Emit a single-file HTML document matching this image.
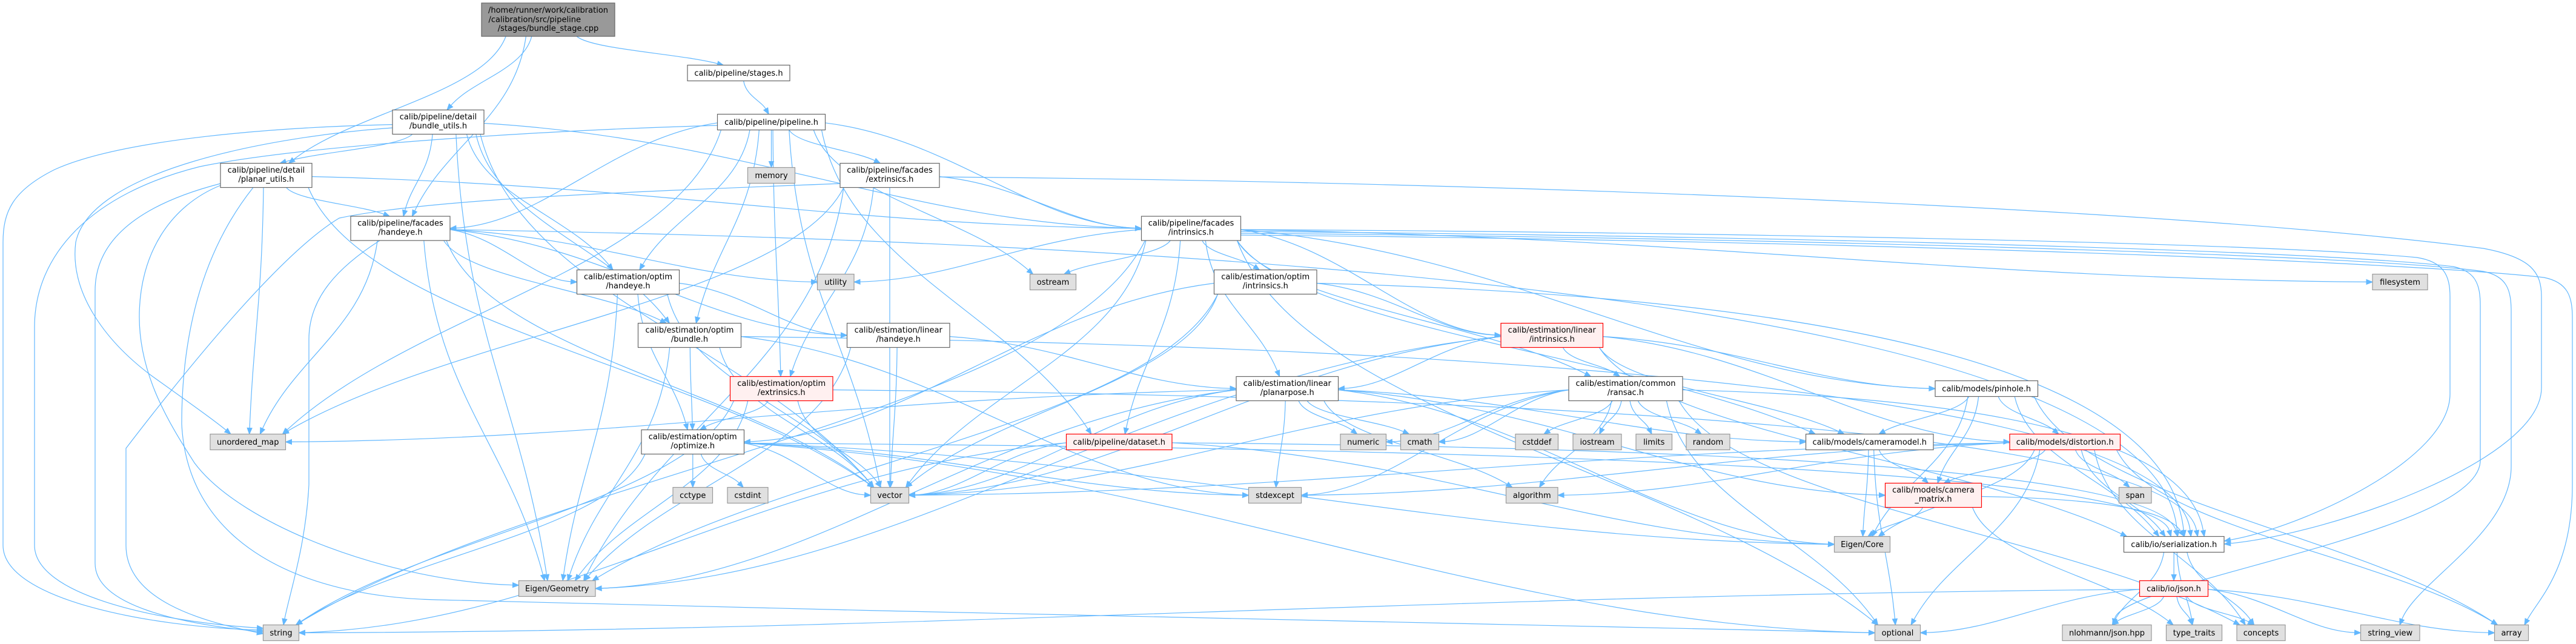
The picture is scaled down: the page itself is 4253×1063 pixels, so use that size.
<!DOCTYPE html>
<html>
<head>
<meta charset="utf-8">
<style>
  html,body{margin:0;padding:0;background:#fff;}
  body{width:4253px;height:1063px;overflow:hidden;}
  svg{display:block;}
  .w{fill:#ffffff;stroke:#666666;stroke-width:1.2;}
  .g{fill:#e0e0e0;stroke:#999999;stroke-width:1.2;}
  .r{fill:#fff0f0;stroke:#ff0000;stroke-width:1.2;}
  .k{fill:#999999;stroke:#666666;stroke-width:1.2;}
  text{font-family:"DejaVu Sans","Liberation Sans",sans-serif;font-size:13px;fill:#000;text-anchor:middle;}
  .e{fill:none;stroke:#63b8ff;stroke-width:1.2;}
  .a{fill:#63b8ff;stroke:#63b8ff;stroke-width:1;}
</style>
</head>
<body>
<svg id="svg" width="4253" height="1063" viewBox="0 0 4253 1063" xmlns="http://www.w3.org/2000/svg">
<g id="edges"></g>
<g id="nodes">
  <rect class="k" x="795" y="5" width="220" height="55"/>
  <text x="905" y="21">/home/runner/work/calibration</text>
  <text x="806.5" y="36.4" style="text-anchor:start">/calibration/src/pipeline</text>
  <text x="905" y="51.2">/stages/bundle_stage.cpp</text>

  <rect class="w" x="1135" y="107.5" width="169" height="26"/>
  <text x="1219.5" y="125">calib/pipeline/stages.h</text>

  <rect class="w" x="648" y="181.5" width="151" height="40"/>
  <text x="723.5" y="197.1">calib/pipeline/detail</text>
  <text x="723.5" y="211.9">/bundle_utils.h</text>

  <rect class="w" x="1184.5" y="188.5" width="178" height="26"/>
  <text x="1273.5" y="206">calib/pipeline/pipeline.h</text>

  <rect class="w" x="364" y="269.5" width="151" height="40"/>
  <text x="439.5" y="285.1">calib/pipeline/detail</text>
  <text x="439.5" y="299.9">/planar_utils.h</text>

  <rect class="w" x="1387" y="269.5" width="164" height="40"/>
  <text x="1469" y="285.1">calib/pipeline/facades</text>
  <text x="1469" y="299.9">/extrinsics.h</text>

  <rect class="g" x="1234.5" y="276.5" width="78" height="26"/>
  <text x="1273.5" y="294">memory</text>

  <rect class="w" x="579" y="357" width="164" height="40"/>
  <text x="661" y="372.6">calib/pipeline/facades</text>
  <text x="661" y="387.4">/handeye.h</text>

  <rect class="w" x="1884.5" y="357" width="164" height="40"/>
  <text x="1966.5" y="372.6">calib/pipeline/facades</text>
  <text x="1966.5" y="387.4">/intrinsics.h</text>

  <rect class="w" x="952.5" y="445.5" width="169" height="40"/>
  <text x="1037" y="461.1">calib/estimation/optim</text>
  <text x="1037" y="475.9">/handeye.h</text>

  <rect class="g" x="1349.5" y="452.5" width="60.5" height="26"/>
  <text x="1379.75" y="470">utility</text>

  <rect class="g" x="1700.5" y="452.5" width="76" height="26"/>
  <text x="1738.5" y="470">ostream</text>

  <rect class="w" x="2004.5" y="445.5" width="169.5" height="40"/>
  <text x="2089.25" y="461.1">calib/estimation/optim</text>
  <text x="2089.25" y="475.9">/intrinsics.h</text>

  <rect class="g" x="3917" y="452.5" width="91" height="26"/>
  <text x="3962.5" y="470">filesystem</text>

  <rect class="w" x="1053.5" y="533.5" width="170" height="40"/>
  <text x="1138.5" y="549.1">calib/estimation/optim</text>
  <text x="1138.5" y="563.9">/bundle.h</text>

  <rect class="w" x="1398.5" y="533.5" width="169.5" height="40"/>
  <text x="1483.25" y="549.1">calib/estimation/linear</text>
  <text x="1483.25" y="563.9">/handeye.h</text>

  <rect class="r" x="2478" y="533.5" width="168.5" height="40"/>
  <text x="2562.25" y="549.1">calib/estimation/linear</text>
  <text x="2562.25" y="563.9">/intrinsics.h</text>

  <rect class="r" x="1205.5" y="621.5" width="169.5" height="40"/>
  <text x="1290.25" y="637.1">calib/estimation/optim</text>
  <text x="1290.25" y="651.9">/extrinsics.h</text>

  <rect class="w" x="2041" y="621.5" width="168.5" height="40"/>
  <text x="2125.25" y="637.1">calib/estimation/linear</text>
  <text x="2125.25" y="651.9">/planarpose.h</text>

  <rect class="w" x="2590" y="621.5" width="188" height="40"/>
  <text x="2684" y="637.1">calib/estimation/common</text>
  <text x="2684" y="651.9">/ransac.h</text>

  <rect class="w" x="3195" y="628.5" width="169.5" height="26"/>
  <text x="3279.75" y="646">calib/models/pinhole.h</text>

  <rect class="g" x="347" y="716.5" width="124.5" height="26"/>
  <text x="409.25" y="734">unordered_map</text>

  <rect class="w" x="1059" y="709.5" width="169.5" height="40"/>
  <text x="1143.75" y="725.1">calib/estimation/optim</text>
  <text x="1143.75" y="739.9">/optimize.h</text>

  <rect class="r" x="1760.5" y="716.5" width="174.5" height="26"/>
  <text x="1847.75" y="734">calib/pipeline/dataset.h</text>

  <rect class="g" x="2213" y="716.5" width="75.5" height="26"/>
  <text x="2250.75" y="734">numeric</text>

  <rect class="g" x="2312.5" y="716.5" width="63" height="26"/>
  <text x="2344" y="734">cmath</text>

  <rect class="g" x="2502" y="716.5" width="70.5" height="26"/>
  <text x="2537.25" y="734">cstddef</text>

  <rect class="g" x="2597" y="716.5" width="80" height="26"/>
  <text x="2637" y="734">iostream</text>

  <rect class="g" x="2701" y="716.5" width="59.5" height="26"/>
  <text x="2730.75" y="734">limits</text>

  <rect class="g" x="2784" y="716.5" width="72" height="26"/>
  <text x="2820" y="734">random</text>

  <rect class="w" x="2981.5" y="716.5" width="210.5" height="26"/>
  <text x="3086.75" y="734">calib/models/cameramodel.h</text>

  <rect class="r" x="3318" y="716.5" width="182.5" height="26"/>
  <text x="3409.25" y="734">calib/models/distortion.h</text>

  <rect class="g" x="1111" y="804.5" width="65.5" height="26"/>
  <text x="1143.75" y="822">cctype</text>

  <rect class="g" x="1201" y="804.5" width="67" height="26"/>
  <text x="1234.5" y="822">cstdint</text>

  <rect class="g" x="1437.5" y="804.5" width="63" height="26"/>
  <text x="1469" y="822">vector</text>

  <rect class="g" x="2061.5" y="804.5" width="87" height="26"/>
  <text x="2105" y="822">stdexcept</text>

  <rect class="g" x="2486.5" y="804.5" width="85.5" height="26"/>
  <text x="2529.25" y="822">algorithm</text>

  <rect class="r" x="3112.5" y="797.5" width="159" height="40"/>
  <text x="3192" y="813.1">calib/models/camera</text>
  <text x="3192" y="827.9">_matrix.h</text>

  <rect class="g" x="3498.5" y="804.5" width="53.5" height="26"/>
  <text x="3525.25" y="822">span</text>

  <rect class="g" x="3028.5" y="885.5" width="92" height="26"/>
  <text x="3074.5" y="903">Eigen/Core</text>

  <rect class="w" x="3506.5" y="885.5" width="165.5" height="26"/>
  <text x="3589.25" y="903">calib/io/serialization.h</text>

  <rect class="g" x="856.5" y="958.5" width="126.5" height="26"/>
  <text x="919.75" y="976">Eigen/Geometry</text>

  <rect class="r" x="3532.5" y="958.5" width="113" height="26"/>
  <text x="3589" y="976">calib/io/json.h</text>

  <rect class="g" x="434.5" y="1031.5" width="59" height="26"/>
  <text x="464" y="1049">string</text>

  <rect class="g" x="3095.5" y="1031.5" width="75" height="26"/>
  <text x="3133" y="1049">optional</text>

  <rect class="g" x="3405" y="1031.5" width="147" height="26"/>
  <text x="3478.5" y="1049">nlohmann/json.hpp</text>

  <rect class="g" x="3576.5" y="1031.5" width="92" height="26"/>
  <text x="3622.5" y="1049">type_traits</text>

  <rect class="g" x="3693" y="1031.5" width="80" height="26"/>
  <text x="3733" y="1049">concepts</text>

  <rect class="g" x="3897.5" y="1031.5" width="97.5" height="26"/>
  <text x="3946.25" y="1049">string_view</text>

  <rect class="g" x="4118.5" y="1031.5" width="56" height="26"/>
  <text x="4146.5" y="1049">array</text>
</g>
</svg>
<script>
(function(){
var N={
R:[795,5,220,55],ST:[1135,107.5,169,26],BU:[648,181.5,151,40],PL:[1184.5,188.5,178,26],
PU:[364,269.5,151,40],EF:[1387,269.5,164,40],ME:[1234.5,276.5,78,26],HF:[579,357,164,40],
IF:[1884.5,357,164,40],OH:[952.5,445.5,169,40],UT:[1349.5,452.5,60.5,26],OS:[1700.5,452.5,76,26],
OI:[2004.5,445.5,169.5,40],FS:[3917,452.5,91,26],OB:[1053.5,533.5,170,40],LH:[1398.5,533.5,169.5,40],
LI:[2478,533.5,168.5,40],OX:[1205.5,621.5,169.5,40],LP:[2041,621.5,168.5,40],RA:[2590,621.5,188,40],
PH:[3195,628.5,169.5,26],UM:[347,716.5,124.5,26],OP:[1059,709.5,169.5,40],DS:[1760.5,716.5,174.5,26],
NU:[2213,716.5,75.5,26],CM:[2312.5,716.5,63,26],CD:[2502,716.5,70.5,26],IO:[2597,716.5,80,26],
LM:[2701,716.5,59.5,26],RN:[2784,716.5,72,26],CMO:[2981.5,716.5,210.5,26],DI:[3318,716.5,182.5,26],
CT:[1111,804.5,65.5,26],CI:[1201,804.5,67,26],VE:[1437.5,804.5,63,26],SE:[2061.5,804.5,87,26],
AL:[2486.5,804.5,85.5,26],CX:[3112.5,797.5,159,40],SP:[3498.5,804.5,53.5,26],EC:[3028.5,885.5,92,26],
SZ:[3506.5,885.5,165.5,26],EG:[856.5,958.5,126.5,26],JS:[3532.5,958.5,113,26],STR:[434.5,1031.5,59,26],
OPT:[3095.5,1031.5,75,26],NL:[3405,1031.5,147,26],TT:[3576.5,1031.5,92,26],CO:[3693,1031.5,80,26],
SV:[3897.5,1031.5,97.5,26],AR:[4118.5,1031.5,56,26]
};
var E=("R-ST R-BU R-PU R-HF ST-PL "+
"PL-ME PL-EF PL-IF PL-HF PL-OH PL-OB PL-OX PL-DS PL-OS PL-UM PL-VE "+
"BU-PU BU-HF BU-OH BU-OB BU-IF BU-VE BU-EG "+
"PU-HF PU-IF PU-UM PU-VE "+
"EF-IF EF-OX EF-UM EF-VE EF-EG "+
"HF-OH HF-UT HF-OB HF-LH HF-SZ HF-UM HF-VE HF-EG "+
"IF-UT IF-OS IF-OI IF-FS IF-DS IF-RA IF-PH IF-LP IF-LI IF-CMO IF-VE IF-STR IF-OPT "+
"OH-OP OH-LH OH-EG OH-VE "+
"OI-LI OI-OP OI-VE OI-SZ OI-EG "+
"OB-OP OB-VE OB-EG OB-SZ OB-SE "+
"LH-LP LH-VE LH-EG "+
"LI-LP LI-RA LI-DI LI-PH LI-CMO LI-VE LI-SZ LI-EG "+
"OX-OP OX-VE OX-SZ OX-EG OX-STR "+
"LP-NU LP-CM LP-SE LP-AL LP-UM LP-VE LP-CX LP-EC LP-EG LP-CMO "+
"RA-NU RA-CM RA-CD RA-IO RA-LM RA-RN RA-VE RA-SE RA-AL RA-OPT RA-CO RA-SZ "+
"PH-CMO PH-CX PH-DI PH-EC PH-SZ PH-AR "+
"OP-CT OP-CI OP-VE OP-SE OP-STR OP-EC OP-OPT OP-SZ "+
"DS-VE DS-STR DS-SZ DS-EC "+
"CMO-CX CMO-EC CMO-OPT "+
"DI-CX DI-EC DI-SP DI-SE DI-AL DI-VE DI-SZ DI-OPT DI-CO DI-AR "+
"CX-EC CX-SZ CX-TT "+
"SZ-JS SZ-NL SZ-TT SZ-CO "+
"JS-NL JS-TT JS-CO JS-SV JS-AR JS-STR JS-OPT").split(" ");
var TOP={SZ:1};
var cnt={};
var ns="http://www.w3.org/2000/svg";
var G=document.getElementById("edges");
function f(v){return Math.round(v*10)/10;}
function pt(p){return f(p[0])+","+f(p[1]);}
function clamp(v,a,b){return Math.max(a,Math.min(b,v));}
function draw(prefix,p0,c1,c2,tip){
  var ux=tip[0]-c2[0],uy=tip[1]-c2[1],L=Math.hypot(ux,uy)||1;ux/=L;uy/=L;
  var bx=tip[0]-ux*10,by=tip[1]-uy*10;
  var d=(prefix?prefix:"M"+pt(p0))+" C"+pt(c1)+" "+pt(c2)+" "+pt([bx,by]);
  var p=document.createElementNS(ns,"path");p.setAttribute("d",d);p.setAttribute("class","e");G.appendChild(p);
  var a=document.createElementNS(ns,"polygon");
  a.setAttribute("points",pt(tip)+" "+pt([bx-uy*4,by+ux*4])+" "+pt([bx+uy*4,by-ux*4]));
  a.setAttribute("class","a");G.appendChild(a);
}
function gen(a,b){
  var A=N[a],B=N[b];
  var ax=A[0],ay=A[1],aw=A[2],ah=A[3],bx=B[0],by=B[1],bw=B[2],bh=B[3];
  var acx=ax+aw/2,bcx=bx+bw/2,ab=ay+ah,dx=bcx-acx,dy=by-ab,sg=dx>=0?1:-1;
  var far=Math.abs(dx)>3*dy+(aw+bw)/2;
  var p0,tip,c1,c2,ddx,ddy;
  if(far && TOP[b]){
    var k=cnt[b]=(cnt[b]||0)+1;
    p0=[sg>0?ax+aw:ax,ay+ah*0.55];
    tip=[bcx-5+11*(k%6),by];
    ddx=tip[0]-p0[0];ddy=tip[1]-p0[1];
    c1=[p0[0]+ddx*0.55,p0[1]+ddy*0.05];
    c2=[tip[0]-30*sg,tip[1]-ddy*0.7];
  }else if(far){
    p0=[sg>0?ax+aw:ax,ay+ah*0.55];
    tip=[sg>0?bx:bx+bw,by+bh*0.5];
    ddx=tip[0]-p0[0];ddy=tip[1]-p0[1];
    c1=[p0[0]+ddx*0.4,p0[1]+ddy*0.15];
    c2=[tip[0]-ddx*0.35,tip[1]-ddy*0.05];
  }else{
    p0=[acx+clamp(dx*0.15,-aw/2+6,aw/2-6),ab];
    tip=[bcx+clamp(-dx*0.08,-bw/2+5,bw/2-5),by];
    ddx=tip[0]-p0[0];ddy=tip[1]-p0[1];
    c1=[p0[0]+ddx*0.1,p0[1]+ddy*0.45];
    c2=[tip[0]-ddx*0.3,tip[1]-ddy*0.4];
  }
  draw(null,p0,c1,c2,tip);
}
for(var i=0;i<E.length;i++){var s=E[i].split("-");if(N[s[0]]&&N[s[1]])gen(s[0],s[1]);}
// custom left-side routes
draw("M648,205.6 C450,210 200,230 90,280 C20,315 5,350 5,400 L5,900",null,[5,990],[250,1035],[434.5,1040]);
draw("M1184.5,207 C900,215 500,240 330,275 C150,320 57,420 57,540 L57,900",null,[57,980],[250,1025],[434.5,1037]);
draw("M364,303 C260,330 157,380 157,480 L157,930",null,[157,1000],[300,1030],[434.5,1043]);
draw("M1387,303 C1000,318 700,330 560,360 C460,420 300,620 208,740 L208,900",null,[208,990],[330,1025],[434.5,1046]);
draw("M627,397 C560,440 510,490 510,560 L510,800",null,[505,900],[478,980],[468,1031.5]);
draw("M648,211 C450,225 150,280 125,400 C115,480 170,560 250,620",null,[320,670],[355,695],[381,716.5]);
draw("M364,306 C280,340 230,420 230,523 C230,620 280,700 321,764",null,[400,870],[650,960],[856.5,966]);
draw("M418,309.5 C330,420 300,560 300,700 C310,900 500,985 720,990 C1500,1010 2600,1035 2900,1040",null,[3000,1042],[3060,1044],[3095.5,1044.5]);
// long routes along the right edge
draw("M2048.5,379 C2700,382 3700,398 3990,425 C4035,432 4045,455 4045,490 L4045,650",null,[4045,760],[3800,870],[3672.5,893]);
draw("M2048.5,382 C2800,388 3800,410 4050,440 C4088,448 4095,470 4095,505 L4095,760",null,[4095,880],[3500,960],[3490,1031.5]);
draw("M2048.5,385 C2900,392 3900,420 4100,448 C4140,456 4146,480 4146,515 L4146,770",null,[4146,880],[3990,960],[3962,1031.5]);
draw("M2048.5,388 C3000,396 3950,430 4200,458 C4240,466 4247,490 4247,525 L4247,800",null,[4247,940],[4190,990],[4168,1031.5]);
draw("M1551.5,292 C2500,300 3600,345 4100,410 C4180,425 4196,450 4196,490 L4196,640",null,[4196,760],[3850,880],[3672.5,898]);
})();
</script>
</body>
</html>
